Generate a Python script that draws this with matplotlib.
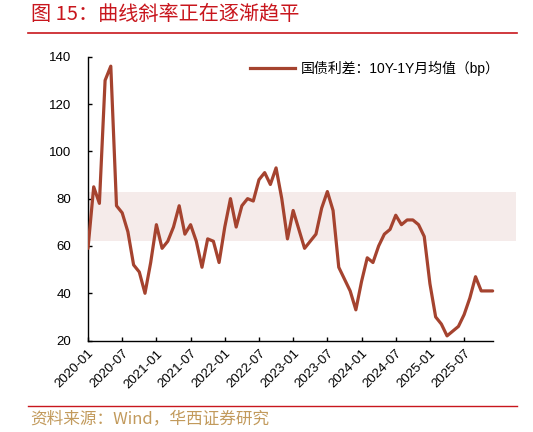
import matplotlib
matplotlib.use('Agg')
import matplotlib.pyplot as plt
from matplotlib.lines import Line2D

plt.rcParams['font.family'] = ['Liberation Sans', 'Noto Sans CJK SC', 'DejaVu Sans']

# monthly spread 10Y-1Y (bp), 2020-01 .. 2025-12
spread = [59, 85, 78, 130, 136, 77, 74, 66, 52, 49, 40, 53,
          69, 59, 62, 68, 77, 65, 69, 62, 51, 63, 62, 53,
          68, 80, 68, 77, 80, 79, 88, 91, 86, 93, 80, 63,
          75, 67, 59, 62, 65, 76, 83, 75, 51, 46, 41, 33,
          45, 55, 53, 60, 65, 67, 73, 69, 71, 71, 69, 64,
          44, 30, 27, 22, 24, 26, 31, 38, 47, 41, 41, 41]
tick_labels = ['2020-01', '2020-07', '2021-01', '2021-07', '2022-01', '2022-07',
               '2023-01', '2023-07', '2024-01', '2024-07', '2025-01', '2025-07']
band_low, band_high = 62.3, 82.7
legend_label = '国债利差：10Y-1Y月均值（bp）'
title = '图 15：曲线斜率正在逐渐趋平'
source = '资料来源：Wind，华西证券研究'

line_color = '#A5432F'
red = '#C8161D'

fig = plt.figure(figsize=(5.33, 4.32), dpi=100)
ax = fig.add_axes([88 / 533, 1 - 340.6 / 432, 428 / 533, (340.6 - 56.7) / 432])

months = list(range(len(spread)))
ax.axhspan(band_low, band_high, color='#F5EBEA', lw=0, zorder=0)
ax.plot(months, spread, color=line_color, lw=2.3, solid_joinstyle='round',
        solid_capstyle='round', zorder=3)

ax.set_xlim(0, 75.1)
ax.set_ylim(20, 140)
ax.set_yticks(range(20, 141, 20))
ax.set_xticks(range(0, len(spread), 6))
ax.set_xticklabels(tick_labels, rotation=45, ha='right', rotation_mode='anchor')

for s in ['top', 'right']:
    ax.spines[s].set_visible(False)
ax.spines['bottom'].set_bounds(0, len(spread) - 1)
ax.spines['left'].set_linewidth(1.0)
ax.spines['bottom'].set_linewidth(1.0)
ax.tick_params(direction='in', length=3, width=1, labelsize=9.5, colors='black')
ax.tick_params(axis='y', pad=12)
ax.tick_params(axis='x', pad=5)

handle = Line2D([0], [0], color=line_color, lw=2.3)
ax.legend([handle], [legend_label], loc='upper right', bbox_to_anchor=(0.99, 1.03),
          frameon=False, fontsize=9, handlelength=3.2, handletextpad=0.4,
          prop={'family': ['Liberation Sans', 'Noto Sans CJK SC']})

fig.text(31 / 533, 1 - 15 / 432, title, color=red, fontsize=14.5, va='center',
         family=['Noto Sans CJK SC'])
fig.add_artist(Line2D([28 / 533, 517 / 533], [1 - 33 / 432] * 2, color=red, lw=1.2))
fig.add_artist(Line2D([28 / 533, 517 / 533], [1 - 406 / 432] * 2, color=red, lw=1.0))
fig.text(30 / 533, 1 - 419 / 432, source, color='#C29A5C', fontsize=12, va='center',
         family=['Noto Sans CJK SC'])

fig.savefig('out.png', dpi=100)
